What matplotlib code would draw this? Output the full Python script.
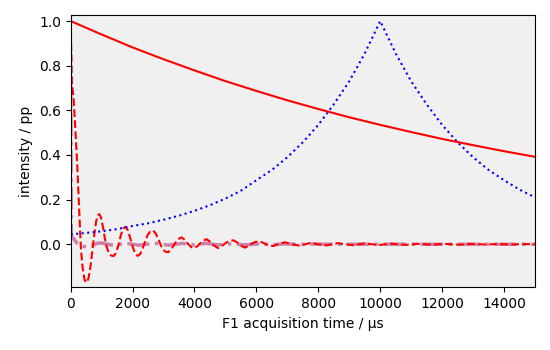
import matplotlib
matplotlib.use("Agg")
import matplotlib.pyplot as plt

# T2 decay (solid red), every 1000 us
t_decay = [0, 1000, 2000, 3000, 4000, 5000, 6000, 7000, 8000, 9000,
           10000, 11000, 12000, 13000, 14000, 15000]
decay = [1.0, 0.94, 0.882, 0.829, 0.779, 0.731, 0.687, 0.645, 0.606, 0.569,
         0.535, 0.503, 0.472, 0.444, 0.417, 0.392]

# echo (blue dotted)
t_echo = [0, 500, 1000, 1500, 2000, 2500, 3000, 3500, 4000, 4500, 5000,
          5500, 6000, 6500, 7000, 7500, 8000, 8500, 9000, 9500, 10000,
          10500, 11000, 11500, 12000, 12500, 13000, 13500, 14000, 14500, 15000]
echo = [0.044, 0.051, 0.058, 0.068, 0.082, 0.094, 0.11, 0.128, 0.15, 0.175,
        0.205, 0.24, 0.287, 0.333, 0.39, 0.457, 0.535, 0.627, 0.73, 0.855, 1.0,
        0.855, 0.73, 0.627, 0.535, 0.457, 0.39, 0.333, 0.287, 0.245, 0.21]

# FID (red dashed)
t_fid = [0, 40, 90, 150, 210, 270, 330, 390, 450, 516, 580, 640, 700, 760,
         820, 870, 924, 980, 1040, 1100, 1160, 1220, 1300, 1387, 1460, 1540,
         1620, 1690, 1762, 1840, 1920, 2000, 2080, 2160, 2240, 2320, 2400,
         2480, 2570, 2660, 2750, 2840, 2930, 3040, 3150, 3250, 3350, 3460,
         3580, 3690, 3800, 3900, 3990, 4100, 4220, 4387, 4500, 4620, 4763,
         4880, 5000, 5110, 5247, 5360, 5480, 5623, 5740, 5860, 5980, 6107,
         6230, 6350, 6537, 6700, 6913, 7150, 7397, 7580, 7770, 7990, 8257,
         8440, 8630, 8870, 9117, 9300, 9490, 9730, 9977, 10160, 10350, 10590,
         10837, 11020, 11210, 11450, 11697, 11880, 12070, 12300, 12557, 12740,
         12930, 13170, 13417, 13600, 13790, 14030, 14277, 14460, 14650, 15000]
fid = [1.0, 0.72, 0.66, 0.52, 0.36, 0.17, -0.02, -0.11, -0.16, -0.172, -0.15,
       -0.10, -0.03, 0.04, 0.10, 0.128, 0.135, 0.12, 0.08, 0.03, -0.01, -0.035,
       -0.05, -0.053, -0.04, -0.005, 0.04, 0.07, 0.078, 0.065, 0.03, -0.01,
       -0.04, -0.052, -0.045, -0.02, 0.01, 0.04, 0.058, 0.062, 0.048, 0.02,
       -0.01, -0.032, -0.036, -0.022, 0.0, 0.022, 0.031, 0.02, 0.0, -0.013,
       -0.017, -0.008, 0.01, 0.023, 0.012, -0.005, -0.017, -0.008, 0.005,
       0.014, 0.018, 0.01, -0.004, -0.015, -0.008, 0.004, 0.011, 0.013, 0.006,
       -0.003, -0.008, 0.0, 0.009, 0.0, -0.006, 0.0, 0.007, 0.0, -0.005, 0.0,
       0.005, 0.0, -0.004, 0.0, 0.004, 0.0, -0.003, 0.0, 0.003, 0.0, -0.003,
       0.0, 0.002, 0.0, -0.002, 0.0, 0.002, 0.0, -0.002, 0.0, 0.002, 0.0,
       -0.001, 0.0, 0.001, 0.0, -0.001, 0.0, 0.001, 0.0]

# averaged FID (pink dash-dot)
t_avg = [0, 20, 100, 200, 330, 500, 700, 900, 1100, 1300, 1500, 1750, 2000,
         2200, 2450, 2700, 2950, 3150, 3400, 3600, 3850, 4000, 4250, 4400,
         4750, 5250, 5620, 6100, 6540, 6900, 7400, 7800, 8500, 15000]
avg = [0.75, 0.035, 0.025, 0.005, -0.008, -0.011, -0.004, 0.006, 0.004,
       -0.003, -0.003, 0.005, 0.0, -0.004, 0.0, 0.005, 0.0, -0.004, 0.0,
       0.004, 0.0, -0.003, 0.002, 0.004, -0.003, 0.003, -0.003, 0.002,
       -0.002, 0.002, -0.001, 0.001, 0.0, 0.0]

fig = plt.figure(figsize=(5.5, 3.5), dpi=100)
ax = fig.add_axes([0.1285, 0.179, 0.8442, 0.778])
ax.set_facecolor("#f0f0f0")

ax.plot(t_avg, avg, "-.", color="#cc80ac", linewidth=2.5)
ax.plot(t_fid, fid, "r--", linewidth=1.5)
ax.plot(t_echo, echo, "b:", linewidth=1.5)
ax.plot(t_decay, decay, "r-", linewidth=1.5)

ax.set_xlim(0, 15000)
ax.set_ylim(-0.193, 1.027)
ax.set_yticks([0.0, 0.2, 0.4, 0.6, 0.8, 1.0])
ax.set_xticks(range(0, 15000, 2000))
ax.set_xlabel("F1 acquisition time / μs")
ax.set_ylabel("intensity / pp")

plt.savefig("out.png", dpi=100)
